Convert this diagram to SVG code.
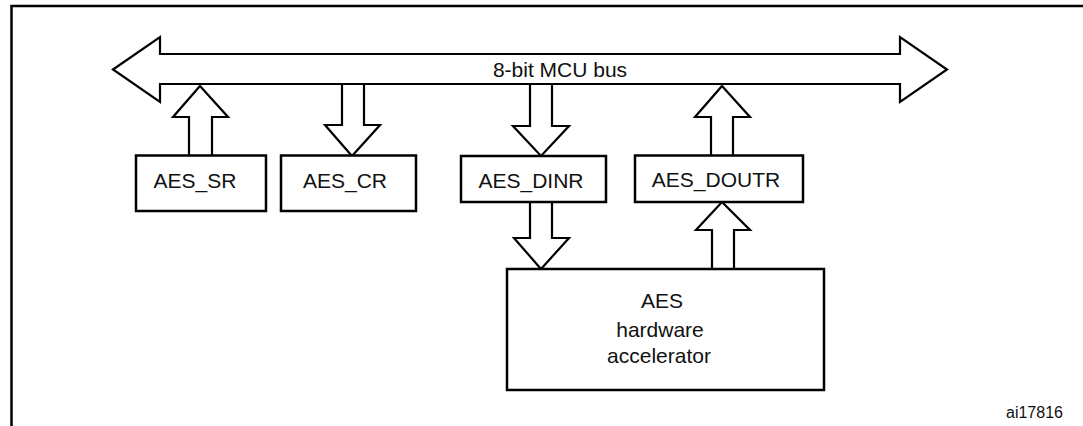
<svg xmlns="http://www.w3.org/2000/svg" width="1083" height="426" viewBox="0 0 1083 426">
<style>
.ln{fill:#fff;stroke:#000;stroke-width:2.2;stroke-linejoin:miter}
.box{fill:#fff;stroke:#000;stroke-width:2.5}
.t{font-family:"Liberation Sans",Arial,sans-serif;font-size:21px;fill:#111;text-anchor:middle}
.s{font-family:"Liberation Sans",Arial,sans-serif;font-size:16px;fill:#111;text-anchor:middle}
</style>
<rect width="1083" height="426" fill="#fff"/>
<path d="M11.5 426 V6 H1083" fill="none" stroke="#000" stroke-width="2.5"/>
<g id="bus">
<polygon class="ln" points="113,69.5 160,37 160,54 900,54 900,37 947,69.5 900,102 900,84 160,84 160,102"/>
<text class="t" x="560" y="76.5">8-bit MCU bus</text>
</g>
<g id="connectors">
<polygon class="ln" points="200,86 228,117 212,117 212,156 189,156 189,117 173,117"/>
<polygon class="ln" points="342,84 342,125 325,125 352,156 380,125 364,125 364,84"/>
<polygon class="ln" points="530,84 530,126 513,126 541,156 569,126 552,126 552,84"/>
<polygon class="ln" points="722,86 750,117 733,117 733,156 711,156 711,117 695,117"/>
<polygon class="ln" points="530,202 530,238 514,238 541,269 569,238 552,238 552,202"/>
<polygon class="ln" points="722,202 750,230 734,230 734,269 712,269 712,230 696,230"/>
</g>
<g id="aes_sr">
<rect class="box" x="136" y="155.5" width="130" height="55.5"/>
<text class="t" x="195" y="188">AES_SR</text>
</g>
<g id="aes_cr">
<rect class="box" x="281" y="155.5" width="135" height="55.5"/>
<text class="t" x="345" y="188">AES_CR</text>
</g>
<g id="aes_dinr">
<rect class="box" x="461" y="156" width="145" height="46"/>
<text class="t" x="531" y="188">AES_DINR</text>
</g>
<g id="aes_doutr">
<rect class="box" x="635" y="155.5" width="168" height="46.5"/>
<text class="t" x="716" y="187">AES_DOUTR</text>
</g>
<g id="aes_accel">
<rect class="box" x="507" y="269" width="317" height="121"/>
<text class="t" x="662" y="308">AES</text>
<text class="t" x="660" y="337">hardware</text>
<text class="t" x="659" y="363">accelerator</text>
</g>
<text class="s" x="1034.5" y="418">ai17816</text>
</svg>
